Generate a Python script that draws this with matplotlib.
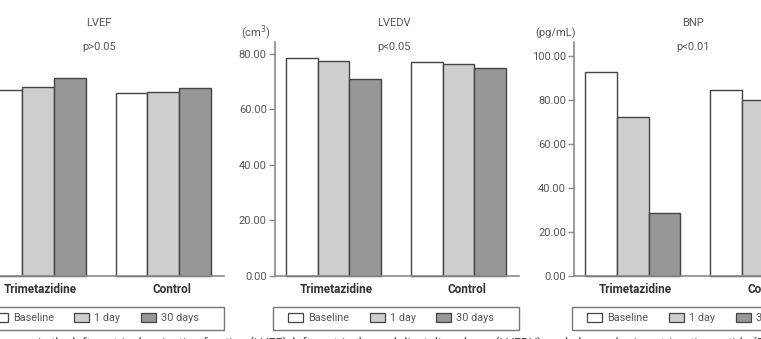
import numpy as np
import matplotlib.pyplot as plt
from matplotlib.patches import Rectangle, Patch

plt.rcParams['font.family'] = ['Roboto', 'DejaVu Sans']

groups = ['Trimetazidine', 'Control']
series = ['Baseline', '1 day', '30 days']
colors = ['#ffffff', '#cdcecf', '#969799']

lvef = [[67.0, 68.0, 71.3], [65.8, 66.2, 67.9]]
lvedv = [[78.4, 77.5, 71.1], [77.0, 76.3, 75.0]]
bnp = [[93.0, 72.4, 28.8], [84.7, 80.3, 76.0]]

lvedv_ticks = [0, 20, 40, 60, 80]
bnp_ticks = [0, 20, 40, 60, 80, 100]

W, H = 761, 339
fig = plt.figure(figsize=(W / 100, H / 100), dpi=100)

# panel layout in pixels: left edge of axis, y-limit top
panels = [
    dict(x=-20.3, data=lvef, ymax=84.3, title='LVEF', p='p>0.05', unit=None, ticks=None),
    dict(x=275.0, data=lvedv, ymax=84.3, title='LVEDV', p='p<0.05', unit='(cm$^3$)', ticks=lvedv_ticks),
    dict(x=574.3, data=bnp, ymax=106.5, title='BNP', p='p<0.01', unit='(pg/mL)', ticks=bnp_ticks),
]

axw, axh, axb = 244, 234, 276
grey = '#8a8a8a'
txt = '#555555'
bw = 0.253

for pn in panels:
    ax = fig.add_axes([pn['x'] / W, (H - axb) / H, axw / W, axh / H])
    ax.patch.set_alpha(0)
    vals = np.array(pn['data'])
    x = np.arange(len(groups))
    for i, s in enumerate(series):
        ax.bar(x + (i - 1) * bw, vals[:, i], bw, color=colors[i], edgecolor='#444444',
               linewidth=1.0, label=s, clip_on=False)
    ax.set_xlim(-0.468, 1.484)
    ax.set_ylim(0, pn['ymax'])
    for sp in ['top', 'right']:
        ax.spines[sp].set_visible(False)
    ax.spines['left'].set_color(grey)
    ax.spines['bottom'].set_color(grey)
    ax.spines['left'].set_linewidth(1.2)
    ax.spines['bottom'].set_linewidth(1.2)
    ax.set_xticks([0.02, 1.07])
    ax.set_xticklabels(groups, fontsize=8.5, fontweight='bold', color='#333333')
    ax.tick_params(axis='x', length=0, pad=5)
    if pn['ticks'] is not None:
        ax.set_yticks(pn['ticks'])
        ax.set_yticklabels(['%.2f' % t for t in pn['ticks']], fontsize=8, color=txt)
        ax.tick_params(axis='y', length=4, width=1, color=grey, pad=2, direction='out')
    else:
        ax.set_yticks([])

    # titles
    cx = (pn['x'] + 119) / W
    fig.text(cx, 1 - 23 / H, pn['title'], ha='center', va='center', fontsize=8, color=txt)
    fig.text(cx, 1 - 47 / H, pn['p'], ha='center', va='center', fontsize=8, color=txt)
    if pn['unit']:
        fig.text((pn['x'] - 19) / W, 1 - 33 / H, pn['unit'], ha='center', va='center',
                 fontsize=8, color=txt)

    # legend box
    lx0 = (pn['x'] - 2) / W
    rect = Rectangle((lx0, 1 - 329.5 / H), 246 / W, 23 / H, transform=fig.transFigure,
                     fill=False, edgecolor='#777777', linewidth=1.0)
    fig.add_artist(rect)
    handles = [Patch(facecolor=c, edgecolor='#444444', linewidth=0.9) for c in colors]
    fig.legend(handles, series, loc='center left',
               bbox_to_anchor=((pn['x'] + 13) / W, 1 - 318 / H), ncol=3, frameon=False,
               fontsize=7.8, handlelength=1.4, handleheight=0.9, handletextpad=0.45,
               columnspacing=1.9, labelcolor=txt, borderpad=0, borderaxespad=0)

fig.text(38 / W, 1 - 336.5 / H,
         'in the left ventricular ejection fraction (LVEF), left ventricular end-diastolic volume (LVEDV), '
         'and plasma brain natriuretic peptide (BNP)',
         ha='left', va='top', fontsize=9, color='#444444')

fig.savefig('out.png', dpi=100)
